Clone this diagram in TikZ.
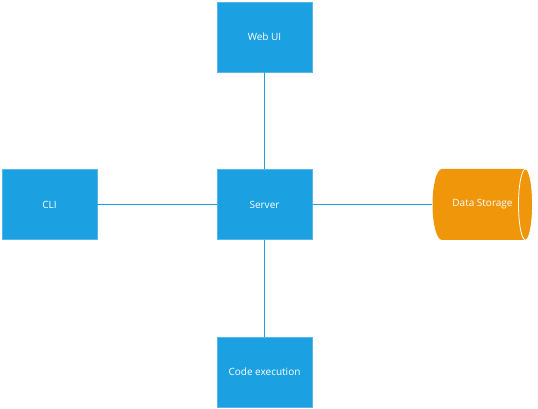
\documentclass[tikz,border=0pt]{standalone}
\usepackage{fontspec}
\setmainfont{Open Sans}
\definecolor{boxblue}{HTML}{1BA1E2}
\definecolor{storeorange}{HTML}{F0960A}
\begin{document}
\begin{tikzpicture}[x=1pt,y=1pt,
  block/.style={rectangle, fill=boxblue, draw=boxblue!75!white, line width=0.6pt,
    minimum width=95pt, minimum height=70pt, inner sep=0pt,
    text=white, font=\fontsize{10}{12}\selectfont},
  link/.style={draw=boxblue, line width=0.9pt}]
\useasboundingbox (0,0) rectangle (538,409);

% component boxes
\node[block] (web)    at (264.5,372)   {Web UI};
\node[block] (server) at (264.5,204.5) {Server};
\node[block] (cli)    at (49.5,204.5)  {CLI};
\node[block] (code)   at (264.5,37)    {Code execution};

% storage cylinder, lying on its side
\fill[storeorange] (442,240) -- (525.5,240)
  arc[start angle=90, end angle=-90, x radius=7, y radius=35.5]
  -- (442,169)
  arc[start angle=270, end angle=90, x radius=9.5, y radius=35.5] -- cycle;
\draw[white, line width=0.8pt] (525.5,204.5) ellipse[x radius=7, y radius=35.5];
\node[inner sep=0pt, minimum width=100pt, minimum height=71pt,
  text=white, font=\fontsize{10}{12}\selectfont] (store) at (482.5,204.5) {Data Storage};

% connectors
\draw[link] (web) -- (server);
\draw[link] (cli) -- (server);
\draw[link] (server) -- (store);
\draw[link] (server) -- (code);
\end{tikzpicture}
\end{document}
